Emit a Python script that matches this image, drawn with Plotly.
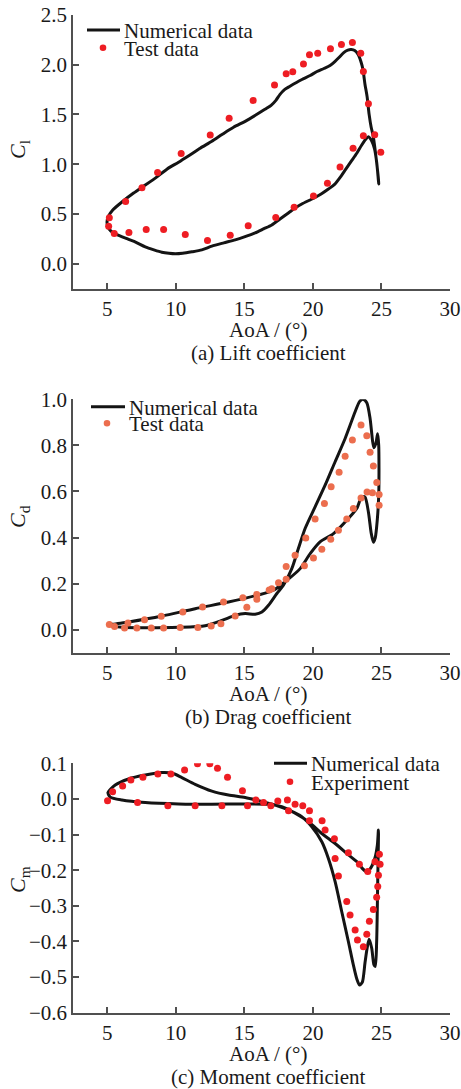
import plotly.graph_objects as go

# ---------------- data ----------------
# (a) Lift coefficient
cl_num_x = [4.98, 5.10, 5.40, 6.07, 6.92, 7.77, 8.60, 9.35, 10.20, 11.00, 11.78, 12.63, 13.40, 14.21,
            15.06, 15.80, 16.50, 16.95, 17.30, 17.60, 17.95, 18.30, 18.80, 19.20, 19.80, 20.30, 20.80,
            21.25, 21.60, 21.90, 22.25, 22.55, 22.80, 23.05, 23.30, 23.50, 23.65, 23.80, 23.95, 24.10,
            24.25, 24.40, 24.55, 24.68, 24.78, 24.80, 24.75, 24.65, 24.50, 24.30, 24.05, 23.85, 23.55,
            23.20, 22.80, 22.40, 22.00, 21.60, 21.13, 20.60, 20.16, 19.70, 19.19, 18.70, 18.21, 17.60,
            17.00, 16.40, 15.79, 15.00, 14.33, 13.50, 12.63, 11.90, 11.17, 10.50, 9.96, 9.50, 8.98,
            8.40, 7.77, 7.10, 6.55, 6.00, 5.58, 5.25, 5.05, 4.98]
cl_num_y = [0.42, 0.48, 0.54, 0.62, 0.71, 0.79, 0.87, 0.95, 1.02, 1.09, 1.16, 1.23, 1.30, 1.37,
            1.43, 1.49, 1.55, 1.59, 1.64, 1.70, 1.75, 1.78, 1.82, 1.85, 1.89, 1.93, 1.96,
            1.99, 2.03, 2.07, 2.12, 2.145, 2.15, 2.14, 2.10, 2.03, 1.95, 1.80, 1.68, 1.50,
            1.37, 1.28, 1.13, 0.98, 0.85, 0.80, 0.88, 1.02, 1.15, 1.23, 1.275, 1.25, 1.19,
            1.11, 1.03, 0.95, 0.87, 0.80, 0.75, 0.70, 0.665, 0.635, 0.60, 0.56, 0.51, 0.45,
            0.39, 0.35, 0.31, 0.27, 0.24, 0.21, 0.177, 0.14, 0.12, 0.105, 0.10, 0.105, 0.116,
            0.14, 0.17, 0.215, 0.245, 0.275, 0.30, 0.33, 0.37, 0.42]
cl_exp_x = [5.10, 5.15, 6.34, 7.53, 8.67, 10.39, 12.51, 13.89, 15.64, 17.20, 18.05, 18.53, 19.31,
            19.75, 20.35, 21.28, 22.08, 22.88, 23.49, 23.68, 24.05, 24.51, 24.95, 23.68, 22.93,
            21.98, 21.06, 20.04, 18.63, 17.29, 15.28, 13.97, 12.31, 10.69, 9.11, 7.84, 6.58, 5.51]
cl_exp_y = [0.377, 0.461, 0.625, 0.762, 0.915, 1.106, 1.293, 1.460, 1.640, 1.794, 1.907, 1.927, 2.004,
            2.098, 2.114, 2.158, 2.201, 2.221, 2.114, 1.931, 1.607, 1.296, 1.119, 1.286, 1.159,
            0.972, 0.808, 0.681, 0.568, 0.464, 0.381, 0.287, 0.234, 0.294, 0.344, 0.344, 0.314, 0.304]

# (b) Drag coefficient
cd_num_x = [5.10, 6.07, 7.77, 10.20, 12.14, 13.36, 14.33, 15.06, 15.79, 16.28, 16.76, 17.37, 17.85,
            18.46, 18.94, 19.43, 20.16, 20.89, 21.62, 22.35, 23.08, 23.40, 23.65, 23.93, 24.17, 24.35,
            24.45, 24.60, 24.72, 24.80, 24.82, 24.80, 24.70, 24.55, 24.41, 24.25, 24.05, 23.80, 23.56,
            23.20, 22.47, 21.50, 20.52, 19.80, 19.07, 18.10, 17.12, 15.91, 13.84, 11.41, 8.99, 6.55, 5.10]
cd_num_y = [0.020, 0.010, 0.008, 0.010, 0.017, 0.040, 0.062, 0.070, 0.067, 0.077, 0.106, 0.157, 0.193,
            0.265, 0.352, 0.439, 0.533, 0.627, 0.729, 0.830, 0.946, 0.990, 1.000, 0.985, 0.917, 0.820,
            0.790, 0.810, 0.850, 0.800, 0.700, 0.580, 0.480, 0.400, 0.380, 0.420, 0.510, 0.575, 0.577,
            0.526, 0.475, 0.417, 0.381, 0.330, 0.265, 0.214, 0.171, 0.149, 0.120, 0.091, 0.059, 0.033, 0.020]
cd_exp_x = [5.15, 5.53, 6.26, 6.51, 7.16, 7.72, 8.21, 8.94, 9.11, 10.32, 10.51, 11.61, 11.95, 12.58,
            13.29, 13.48, 14.33, 14.89, 15.18, 15.91, 15.91, 16.81, 17.00, 17.49, 18.05, 18.05, 18.70,
            19.38, 19.48, 20.04, 20.16, 20.65, 20.84, 21.30, 21.33, 21.86, 21.91, 22.35, 22.47, 22.88,
            22.95, 23.51, 23.51, 23.93, 23.95, 24.17, 24.34, 24.41, 24.66, 24.83, 24.83]
cd_exp_y = [0.022, 0.014, 0.007, 0.029, 0.007, 0.043, 0.007, 0.058, 0.007, 0.009, 0.077, 0.009, 0.098,
            0.016, 0.026, 0.120, 0.059, 0.139, 0.097, 0.153, 0.132, 0.172, 0.178, 0.204, 0.219, 0.274,
            0.323, 0.277, 0.398, 0.311, 0.480, 0.349, 0.548, 0.393, 0.620, 0.432, 0.683, 0.753, 0.480,
            0.823, 0.526, 0.888, 0.572, 0.842, 0.598, 0.770, 0.594, 0.711, 0.639, 0.587, 0.540]

# (c) Moment coefficient
cm_num_x = [5.05, 5.58, 6.55, 7.77, 8.98, 9.76, 10.44, 11.41, 12.63, 13.84, 15.06, 16.27, 17.24,
            18.22, 19.19, 19.92, 20.65, 21.13, 21.62, 22.10, 22.59, 22.95, 23.20, 23.40, 23.60, 23.80,
            23.95, 24.10, 24.29, 24.45, 24.55, 24.65, 24.72, 24.78, 24.70, 24.53, 24.20, 23.93, 23.60,
            23.32, 22.59, 21.62, 20.65, 19.68, 18.70, 17.73, 16.76, 15.06, 12.63, 10.20, 7.77, 6.07,
            5.22, 5.05]
cm_num_y = [0.018, 0.039, 0.056, 0.067, 0.074, 0.072, 0.060, 0.041, 0.022, 0.011, 0.004, -0.007, -0.017,
            -0.031, -0.050, -0.078, -0.120, -0.167, -0.232, -0.316, -0.401, -0.466, -0.505, -0.522,
            -0.515, -0.460, -0.420, -0.394, -0.419, -0.465, -0.470, -0.400, -0.250, -0.087, -0.130,
            -0.165, -0.195, -0.205, -0.195, -0.180, -0.157, -0.125, -0.097, -0.064, -0.040, -0.022,
            -0.015, -0.014, -0.015, -0.014, -0.010, -0.003, 0.005, 0.018]
cm_exp_x = [5.02, 5.39, 6.12, 6.72, 7.60, 8.69, 9.64, 10.64, 11.58, 12.48, 13.04, 13.77, 14.86, 15.84,
            16.40, 16.93, 17.44, 18.14, 18.22, 18.70, 19.26, 19.75, 19.75, 20.67, 20.89, 21.57, 21.62,
            21.86, 22.59, 22.47, 22.71, 23.08, 23.25, 23.39, 23.68, 23.93, 24.12, 24.00, 24.41, 24.53,
            24.65, 24.73, 24.78, 24.85, 24.90, 7.21, 9.42, 11.41, 13.36, 15.23]
cm_exp_y = [-0.005, 0.020, 0.036, 0.053, 0.061, 0.070, 0.070, 0.081, 0.099, 0.099, 0.086, 0.061, 0.023,
            -0.003, -0.010, -0.019, -0.006, -0.003, -0.033, -0.015, -0.019, -0.033, -0.061, -0.061,
            -0.087, -0.112, -0.167, -0.216, -0.151, -0.288, -0.326, -0.368, -0.396, -0.183, -0.415,
            -0.380, -0.343, -0.204, -0.310, -0.176, -0.276, -0.246, -0.214, -0.155, -0.183,
            -0.010, -0.019, -0.019, -0.019, -0.019]

x_ticks = [5, 10, 15, 20, 25, 30]
panels = [
    dict(nx=cl_num_x, ny=cl_num_y, ex=cl_exp_x, ey=cl_exp_y, ecol="#ee1d23",
         yr=[-0.25, 2.5], yt=[0.0, 0.5, 1.0, 1.5, 2.0, 2.5], ytitle="<i>C</i><sub>l</sub>",
         cap="(a) Lift coefficient", names=("Numerical data", "Test data")),
    dict(nx=cd_num_x, ny=cd_num_y, ex=cd_exp_x, ey=cd_exp_y, ecol="#ec6e4e",
         yr=[-0.1, 1.0], yt=[0.0, 0.2, 0.4, 0.6, 0.8, 1.0], ytitle="<i>C</i><sub>d</sub>",
         cap="(b) Drag coefficient", names=("Numerical data", "Test data")),
    dict(nx=cm_num_x, ny=cm_num_y, ex=cm_exp_x, ey=cm_exp_y, ecol="#ee1d23",
         yr=[-0.6, 0.1], yt=[-0.6, -0.5, -0.4, -0.3, -0.2, -0.1, 0.0, 0.1], ytitle="<i>C</i><sub>m</sub>",
         cap="(c) Moment coefficient", names=("Numerical data", "Experiment")),
]

# ---------------- layout geometry (pixels) ----------------
W, H = 461, 1089
def fx(p): return p / W
def fy(p): return 1 - p / H

plot_left, plot_right = 73, 450
plot_tb = [(14.7, 288.7), (399.3, 652.7), (763.3, 1012.7)]
ytitle_y = [150, 517, 880]
legend_pos = [  # line x0,x1,y ; marker x,y ; text x
    dict(lx0=87, lx1=120, ly=30, mx=103, my=47.7, tx=122),
    dict(lx0=91, lx1=125, ly=406.7, mx=107, my=423.3, tx=127),
    dict(lx0=274, lx1=307, ly=763.3, mx=290, my=781.7, tx=309),
]

FONT = "Liberation Serif, Times New Roman, serif"
TXT = "#1a1a1a"
AX = "#505050"

fig = go.Figure()
annotations = []
shapes = []

def note(text, xp, yp, size, xanchor="center", angle=0):
    annotations.append(dict(text=text, x=fx(xp), y=fy(yp), xref="paper", yref="paper",
                            xanchor=xanchor, yanchor="middle", showarrow=False, textangle=angle,
                            font=dict(family=FONT, size=size, color=TXT)))

for i, p in enumerate(panels):
    k = "" if i == 0 else str(i + 1)
    xa, ya = "x" + k, "y" + k
    fig.add_trace(go.Scatter(x=p["nx"], y=p["ny"], mode="lines", name=p["names"][0],
                             line=dict(color="#141414", width=3, shape="spline", smoothing=0.7),
                             xaxis=xa, yaxis=ya, showlegend=False))
    fig.add_trace(go.Scatter(x=p["ex"], y=p["ey"], mode="markers", name=p["names"][1],
                             marker=dict(color=p["ecol"], size=7, line=dict(width=0)),
                             xaxis=xa, yaxis=ya, showlegend=False))
    top, bot = plot_tb[i]
    axis_common = dict(showline=True, linecolor=AX, linewidth=1.5, ticks="inside", ticklen=6,
                       tickwidth=1.5, tickcolor=AX, showgrid=False, zeroline=False,
                       automargin=False,
                       tickfont=dict(family=FONT, size=21, color=TXT))
    fig.update_layout(**{
        "xaxis" + k: dict(domain=[fx(plot_left), fx(plot_right)], range=[2.5, 30],
                          tickvals=x_ticks, anchor=ya, **axis_common),
        "yaxis" + k: dict(domain=[fy(bot), fy(top)], range=p["yr"], tickvals=p["yt"],
                          tickformat=".1f", anchor=xa, **axis_common),
    })
    # axis title, caption, y title
    note("AoA / (°)", 268, bot + 41, 21)
    note(p["cap"], 268, bot + 64, 21)
    note(p["ytitle"], 19, ytitle_y[i], 22, angle=-90)
    # legend
    lp = legend_pos[i]
    shapes.append(dict(type="line", xref="paper", yref="paper", x0=fx(lp["lx0"]), x1=fx(lp["lx1"]),
                       y0=fy(lp["ly"]), y1=fy(lp["ly"]), line=dict(color="#141414", width=3)))
    r = 3.3
    shapes.append(dict(type="circle", xref="paper", yref="paper", x0=fx(lp["mx"] - r), x1=fx(lp["mx"] + r),
                       y0=fy(lp["my"] + r), y1=fy(lp["my"] - r), fillcolor=p["ecol"], line=dict(width=0)))
    note(p["names"][0], lp["tx"], lp["ly"] + 1, 21, xanchor="left")
    note(p["names"][1], lp["tx"], lp["my"] + 1, 21, xanchor="left")

fig.update_layout(width=W, height=H, margin=dict(l=0, r=0, t=0, b=0),
                  paper_bgcolor="white", plot_bgcolor="white",
                  annotations=annotations, shapes=shapes, showlegend=False)

fig.write_html("out.html")
